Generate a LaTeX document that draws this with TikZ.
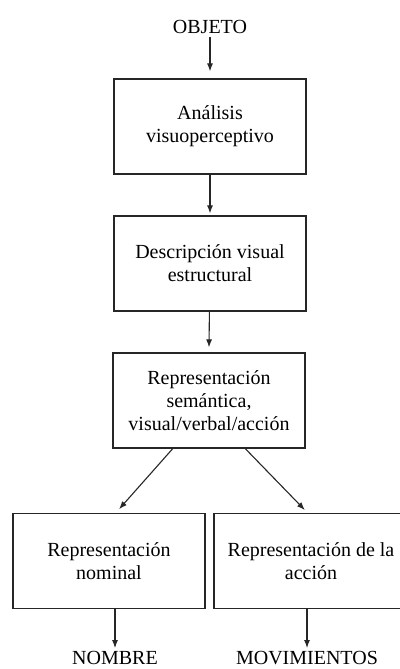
\documentclass[tikz,border=0pt]{standalone}
\usepackage{fontspec}
\setmainfont{Liberation Serif}
\usetikzlibrary{arrows.meta}

\begin{document}
\begin{tikzpicture}[
   x=1pt,y=-1pt,
   font=\fontsize{20}{23}\selectfont,
   box/.style={draw=black!85,line width=1.2pt,minimum width=192pt,minimum height=95pt,align=center,inner sep=2pt},
   word/.style={inner sep=3pt},
   to/.style={-{Latex[length=8pt,width=6pt]},line width=1.1pt,draw=black!85,shorten >=0pt}]
\useasboundingbox (0,0) rectangle (399,669);
\node[word] (obj) at (210,27) {OBJETO};
\node[box] (ana) at (210,126.5) {Análisis\\visuoperceptivo};
\node[box] (des) at (210,263.5) {Descripción visual\\estructural};
\node[box] (sem) at (209,400.5) {Representación\\semántica,\\visual/verbal/acción};
\node[box] (nom) at (109,561) {Representación\\nominal};
\node[box,minimum width=194pt] (acc) at (311,561) {Representación de la\\acción};
\node[word] (nombre) at (115,658) {NOMBRE};
\node[word] (mov) at (307,658) {MOVIMIENTOS};
\draw[to] (obj) -- ([yshift=7pt]ana.north);
\draw[to] (ana) -- ([yshift=2pt]des.north);
\draw[to] (des) -- ([yshift=5pt]sem.north);
\draw[to,shorten >=5pt] (sem.233.6) -- (nom.82.9);
\draw[to,shorten >=4pt] (sem.307.2) -- (acc.94.8);
\draw[to] (nom.south-|nombre) -- (nombre);
\draw[to] (acc.south-|mov) -- (mov);
\end{tikzpicture}
\end{document}
